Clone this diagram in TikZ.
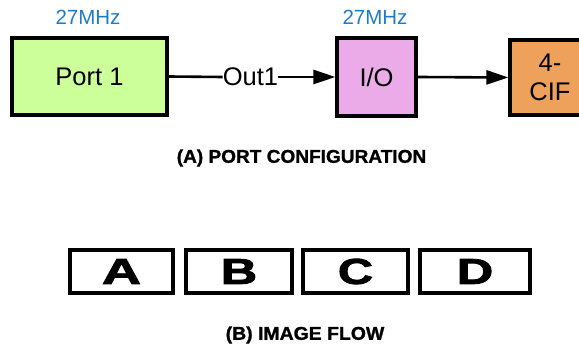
\documentclass[tikz,border=0pt]{standalone}
\usepackage{fontspec}
\setmainfont{Liberation Sans}
\newfontfamily\heavyfont{Liberation Sans Bold}[FakeBold=2.2]
\newfontfamily\capfont{Liberation Sans Bold}[FakeBold=1.2]
\usetikzlibrary{arrows.meta}
\definecolor{pgreen}{HTML}{CCFF99}
\definecolor{ppink}{HTML}{EBAAE8}
\definecolor{porange}{HTML}{EDA15A}
\definecolor{pblue}{HTML}{1E7BC8}
\tikzset{
  blk/.style={draw=black, line width=3.2pt, inner sep=0pt, align=center, font=\fontsize{25.5}{28}\selectfont},
  freq/.style={text=pblue, font=\fontsize{20.5}{24}\selectfont, inner sep=0pt},
  conn/.style={line width=2.6pt, -{Triangle[length=22pt,width=14pt]}},
  frame/.style={draw=black, line width=3.4pt, minimum width=103pt, minimum height=43pt, inner sep=0pt},
  letter/.style={font=\heavyfont\fontsize{36}{36}\selectfont},
  caption/.style={font=\capfont\fontsize{18.5}{20}\selectfont, inner sep=0pt}
}
\begin{document}
\begin{tikzpicture}[x=1pt,y=-1pt]
\useasboundingbox (0,0) rectangle (579,347);
\clip (0,0) rectangle (579,347);
% top row
\node[blk, fill=pgreen, minimum width=155pt, minimum height=77pt] (p1) at (89.5,76.5) {Port 1};
\node[blk, fill=ppink, minimum width=79pt, minimum height=78pt] (io) at (376.5,77) {I/O};
\node[blk, fill=porange, minimum width=80pt, minimum height=75pt, font=\fontsize{25.5}{29}\selectfont] (cif) at (550,77.5) {4-\\CIF};
\node[freq] (f1) at (88,17) {27MHz};
\node[freq] (f2) at (375,17) {27MHz};
\node[inner sep=0pt, font=\fontsize{25.5}{28}\selectfont] (out) at (250.5,77) {Out1};
\draw[line width=2.6pt] (p1.east) -- (out.west);
\draw[conn] (out.east) -- (io.west);
\draw[conn] (io.east) -- (cif.west);
\node[caption] (capa) at (301.5,158) {\scalebox{1.03}[1]{(A) PORT CONFIGURATION}};
% bottom row
\node[frame] (a) at (121.5,271.5) {};
\node[frame, minimum width=106pt] (b) at (239,271.5) {};
\node[frame, minimum width=105pt] (c) at (355.5,271.5) {};
\node[frame, minimum width=110pt] (d) at (475,271.5) {};
\node[letter] (la) at (a.center) {\scalebox{1.5}[1]{A}};
\node[letter] (lb) at (b.center) {\scalebox{1.4}[1]{B}};
\node[letter] (lc) at (c.center) {\scalebox{1.35}[1]{C}};
\node[letter] (ld) at (d.center) {\scalebox{1.4}[1]{D}};
\node[caption] (capb) at (305,335) {\scalebox{1.05}[1]{(B) IMAGE FLOW}};
\end{tikzpicture}
\end{document}
